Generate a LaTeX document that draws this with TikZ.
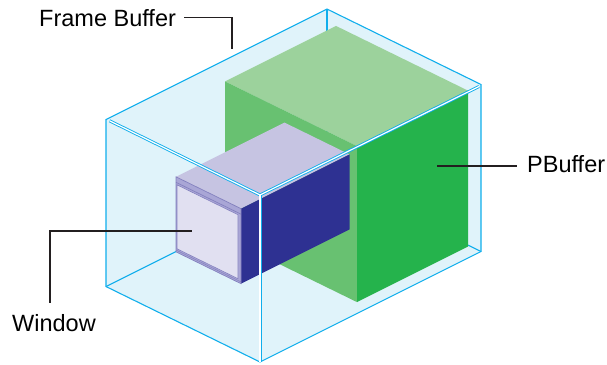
\documentclass[tikz,border=0pt]{standalone}
\usepackage{fontspec}
\setmainfont{Liberation Sans}
\definecolor{cframe}{HTML}{E0F3FA}
\definecolor{cframeborder}{HTML}{10AEEC}
\definecolor{cpbtop}{HTML}{9CD29C}
\definecolor{cpbside}{HTML}{68C171}
\definecolor{cpbfront}{HTML}{25B34C}
\definecolor{cwintop}{HTML}{C6C4E2}
\definecolor{cwinside}{HTML}{2E3192}
\definecolor{cwinpane}{HTML}{E1E0F1}
\definecolor{cwinbar}{HTML}{A9A6D6}
\definecolor{cwinborder}{HTML}{8380BE}
\definecolor{cleader}{HTML}{231F20}

\begin{document}
\begin{tikzpicture}[
    x=1pt, y=1pt,
    edge/.style={draw=cframeborder, line width=1.1pt},
    frontedge/.style={draw=cframeborder, line width=0.9pt, double=white, double distance=1.2pt},
    lbl/.style={font=\fontsize{23.5}{28}\selectfont, inner sep=0pt},
    leader/.style={draw=cleader, line width=1.15pt}
]
\useasboundingbox (0,0) rectangle (607,364);

\begin{scope}[shift={(260pt,2pt)}, x={(1pt,0.5pt)}, y={(-1pt,0.49pt)}, z={(0pt,1pt)}]
% frame buffer: glass hull and hidden back edges
\fill[cframe] (0,154,167) -- (221,154,167) -- (221,0,167) -- (221,0,0)
    -- (0,0,0) -- (0,154,0) -- cycle;
\draw[edge] (0,154,0) -- (221,154,0) -- (221,0,0);
\draw[edge] (221,154,0) -- (221,154,167);

% pbuffer block
\fill[cpbtop] (108.5,11.5,156) -- (219.5,11.5,156) -- (219.5,143.5,156) -- (108.5,143.5,156) -- cycle;
\fill[cpbside] (108.5,11.5,0) -- (108.5,143.5,0) -- (108.5,143.5,156) -- (108.5,11.5,156) -- cycle;
\fill[cpbfront] (108.5,11.5,0) -- (219.5,11.5,0) -- (219.5,11.5,156) -- (108.5,11.5,156) -- cycle;

% window block
\fill[cwintop] (0,19,144) -- (108.5,19,144) -- (108.5,84,144) -- (0,84,144) -- cycle;
\fill[cwinside] (0,19,69) -- (108.5,19,69) -- (108.5,19,144) -- (0,19,144) -- cycle;
\filldraw[fill=cwinbar, draw=cwinborder, line width=0.7pt]
    (0,19,69) -- (0,84,69) -- (0,84,144) -- (0,19,144) -- cycle;
\draw[cwinborder, line width=0.7pt] (0,19,138.5) -- (0,84,138.5);
\filldraw[fill=cwinpane, draw=cwinborder, line width=0.6pt]
    (0,22,72.5) -- (0,83,72.5) -- (0,83,136.5) -- (0,22,136.5) -- cycle;
\draw[cwinborder, line width=0.5pt] (0,19,70.8) -- (0,84,70.8);

% frame buffer: visible edges
\draw[edge] (0,154,0) -- (0,154,167) -- (221,154,167) -- (221,0,167) -- (221,0,0) -- (0,0,0) -- cycle;
\draw[frontedge] (1.5,152,166) -- (0,0,167) -- (219,0,166);
\draw[frontedge] (0,0,167) -- (0,0,0.5);
\end{scope}

% labels
\node[lbl, anchor=base west] (fbtxt) at (39,337) {Frame Buffer};
\coordinate (fbtip) at (232,315);
\draw[leader] ([xshift=8pt,yshift=1.4pt]fbtxt.east) -| (fbtip);

\node[lbl, anchor=base west] (pbtxt) at (527,191) {PBuffer};
\coordinate (pbtip) at (437,198);
\draw[leader] (pbtip) -- ([xshift=-10pt]pbtxt.west |- pbtip);

\node[lbl, anchor=base west] (wintxt) at (12,33) {Window};
\coordinate (wintip) at (192,133);
\draw[leader] ([xshift=-4pt,yshift=11pt]wintxt.north) |- (wintip);
\end{tikzpicture}
\end{document}
